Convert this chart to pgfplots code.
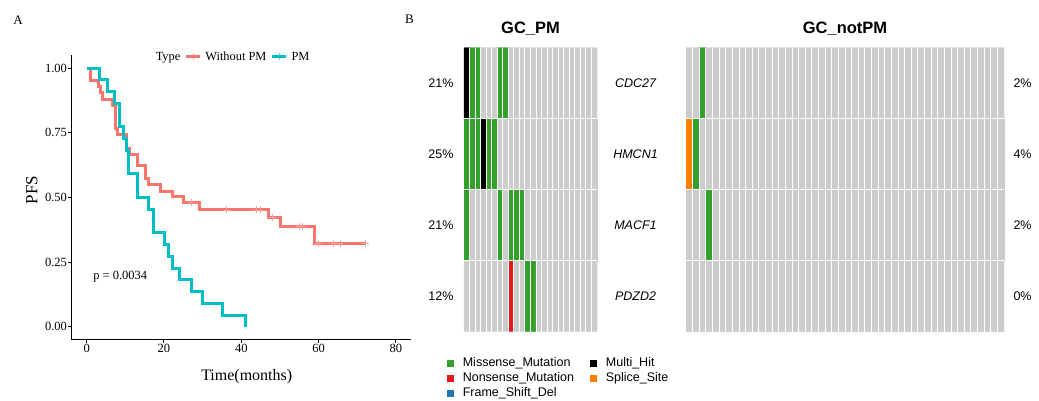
\documentclass[border=0pt]{standalone}
\usepackage{pgfplots}
\pgfplotsset{compat=1.18}
\usepackage{pgfplotstable}
\usepackage{fontspec}
\setmainfont{Liberation Serif}
\newfontfamily\sansf{Liberation Sans}
\definecolor{kmred}{HTML}{F8766D}
\definecolor{kmcyan}{HTML}{00BFC4}
\definecolor{missense}{HTML}{33A02C}
\definecolor{nonsense}{HTML}{E31A1C}
\definecolor{frameshift}{HTML}{1F78B4}
\definecolor{splice}{HTML}{FF7F00}

% mutation class per sample, gene by gene (CDC27, HMCN1, MACF1, PDZD2)
% 0 none, 1 missense, 2 multi hit, 3 nonsense, 4 splice site
\pgfplotstableread[row sep=\\]{
c\\
2\\1\\1\\0\\0\\0\\1\\1\\0\\0\\0\\0\\0\\0\\0\\0\\0\\0\\0\\0\\0\\0\\0\\0\\
1\\1\\1\\2\\1\\1\\0\\0\\0\\0\\0\\0\\0\\0\\0\\0\\0\\0\\0\\0\\0\\0\\0\\0\\
1\\0\\0\\0\\0\\0\\1\\0\\1\\1\\1\\0\\0\\0\\0\\0\\0\\0\\0\\0\\0\\0\\0\\0\\
0\\0\\0\\0\\0\\0\\0\\0\\3\\0\\0\\1\\1\\0\\0\\0\\0\\0\\0\\0\\0\\0\\0\\0\\
}\pmtab

\pgfplotstableread[row sep=\\]{
c\\
0\\0\\1\\0\\0\\0\\0\\0\\0\\0\\0\\0\\0\\0\\0\\0\\0\\0\\0\\0\\0\\0\\0\\0\\0\\0\\0\\0\\0\\0\\0\\0\\0\\0\\0\\0\\0\\0\\0\\0\\0\\0\\0\\0\\0\\0\\0\\0\\
4\\1\\0\\0\\0\\0\\0\\0\\0\\0\\0\\0\\0\\0\\0\\0\\0\\0\\0\\0\\0\\0\\0\\0\\0\\0\\0\\0\\0\\0\\0\\0\\0\\0\\0\\0\\0\\0\\0\\0\\0\\0\\0\\0\\0\\0\\0\\0\\
0\\0\\0\\1\\0\\0\\0\\0\\0\\0\\0\\0\\0\\0\\0\\0\\0\\0\\0\\0\\0\\0\\0\\0\\0\\0\\0\\0\\0\\0\\0\\0\\0\\0\\0\\0\\0\\0\\0\\0\\0\\0\\0\\0\\0\\0\\0\\0\\
0\\0\\0\\0\\0\\0\\0\\0\\0\\0\\0\\0\\0\\0\\0\\0\\0\\0\\0\\0\\0\\0\\0\\0\\0\\0\\0\\0\\0\\0\\0\\0\\0\\0\\0\\0\\0\\0\\0\\0\\0\\0\\0\\0\\0\\0\\0\\0\\
}\notpmtab

\pgfplotsset{
  onco/.style={
    scale only axis, anchor=south west, height=284pt,
    ymin=-0.5, ymax=3.5, y dir=reverse,
    colormap={onco}{rgb255=(204,204,204) rgb255=(51,160,44) rgb255=(0,0,0) rgb255=(227,26,28) rgb255=(255,127,0)},
    colormap access=direct,
    ytick={0.5,1.5,2.5},
    xticklabels={}, yticklabels={},
    xmajorgrids, ymajorgrids,
    major grid style={white, line width=1pt},
    major tick length=0pt,
    axis line style={draw=none},
    axis on top, clip=false,
  },
}
\tikzset{
  txt/.style={font=\sansf\fontsize{12.5}{15}\selectfont},
  gene/.style={font=\sansf\itshape\fontsize{12.5}{15}\selectfont},
  ttl/.style={font=\sansf\bfseries\fontsize{16.5}{18}\selectfont},
}

\begin{document}
\begin{tikzpicture}
\useasboundingbox (0pt,0pt) rectangle (1039pt,401pt);

\node[font=\fontsize{13}{15}\selectfont] at (18pt,381pt) {A};
\node[font=\fontsize{13}{15}\selectfont] at (409.5pt,381.5pt) {B};

% Kaplan-Meier
\begin{axis}[
  at={(71.2pt,61.4pt)}, anchor=south west, scale only axis,
  width=340.2pt, height=284.2pt,
  xmin=-4, xmax=84, ymin=-0.05, ymax=1.05,
  axis lines=left, axis line style={-, line width=1.1pt},
  xtick={0,20,40,60,80}, ytick={0,0.25,0.5,0.75,1},
  tick align=outside, major tick length=3pt,
  every tick/.style={black, line width=1pt},
  yticklabel style={/pgf/number format/fixed, /pgf/number format/fixed zerofill, /pgf/number format/precision=2},
  tick label style={font=\fontsize{12.5}{14}\selectfont, inner sep=1pt},
  /pgf/number format/assume math mode=true,
  xlabel={Time(months)}, ylabel={PFS},
  label style={font=\fontsize{16}{18}\selectfont},
  xlabel style={at={(axis description cs:0.516,-0.1316)}, anchor=center},
  ylabel style={at={(axis description cs:-0.116,0.526)}, anchor=center, font=\fontsize{17}{19}\selectfont},
  legend columns=3,
  legend style={at={(0.4715,0.9944)}, anchor=center, draw=none, fill=none,
    font=\fontsize{12.4}{14}\selectfont, column sep=2pt, inner sep=0pt},
  legend image code/.code={\draw[#1, line width=3pt] (0pt,0pt) -- (14pt,0pt);
    \draw[#1, line width=0.6pt, opacity=0.6] (7pt,-3.5pt) -- (7pt,3.5pt);},
]
\addplot[kmred, line width=3pt, const plot mark left, forget plot] coordinates {
(0,1) (1.1,0.952) (3.0,0.929) (3.6,0.905) (4.2,0.881) (6.8,0.857) (7.4,0.768)
(7.9,0.742) (10.2,0.690) (11.0,0.667) (13.2,0.622) (15.3,0.574) (16.0,0.551)
(19.2,0.522) (22.1,0.503) (25.1,0.480) (29.1,0.452) (47.0,0.422) (50.1,0.387)
(58.9,0.323) (72,0.323)};
\addplot[kmcyan, line width=3pt, const plot mark left, forget plot] coordinates {
(0,1) (3.2,0.955) (5.3,0.909) (7.3,0.864) (8.4,0.773) (9.6,0.727) (10.3,0.682)
(10.9,0.591) (13.1,0.500) (16.0,0.455) (17.2,0.364) (20.1,0.318) (21.1,0.273)
(22.1,0.227) (24.1,0.182) (27.2,0.136) (30.0,0.091) (35.2,0.045) (41.1,0)};
\addplot[only marks, mark=+, mark size=3.5pt, kmred!70, mark options={line width=0.7pt}, forget plot] coordinates {
(27.2,0.480) (36.2,0.452) (44.0,0.452) (44.8,0.452) (48.1,0.422) (55.1,0.387)
(55.8,0.387) (59.9,0.323) (63.8,0.323) (65.7,0.323) (72,0.323)};
\node[font=\fontsize{12.5}{14}\selectfont] at (axis cs:8.7,0.193) {p = 0.0034};
\addlegendimage{empty legend}\addlegendentry{Type}
\addlegendimage{kmred}\addlegendentry{Without PM}
\addlegendimage{kmcyan}\addlegendentry{PM}
\end{axis}

% oncoplot, GC_PM
\begin{axis}[onco, at={(464pt,69.3pt)}, width=133pt,
  xmin=-0.5, xmax=23.5, xtick={0.5,1.5,...,22.5},
  legend columns=2, legend cell align=left,
  legend image code/.code={\fill[#1] (0pt,-3pt) rectangle (6pt,3pt);
    \node[inner sep=0pt, minimum size=0pt] at (13.5pt,0pt) {};},
  legend style={at={(-0.130,-0.0838)}, anchor=north west, draw=none, fill=none,
    font=\sansf\fontsize{12.5}{15}\selectfont, inner sep=0pt, row sep=0.5pt,
    column sep=0pt, /tikz/every even column/.append style={column sep=14pt}},
]
\addplot[matrix plot*, mesh/cols=24, point meta=explicit, forget plot]
  table[x index=0, y index=0, x expr={\coordindex-24*floor((\coordindex+0.5)/24)},
    y expr={floor((\coordindex+0.5)/24)}, meta=c]{\pmtab};
\node[ttl] at (axis cs:11.5,-0.5) [yshift=19.4pt] {GC\_PM};
\node[txt, anchor=east] at (axis cs:-0.5,0) [xshift=-7pt] {21\%};
\node[txt, anchor=east] at (axis cs:-0.5,1) [xshift=-7pt] {25\%};
\node[txt, anchor=east] at (axis cs:-0.5,2) [xshift=-7pt] {21\%};
\node[txt, anchor=east] at (axis cs:-0.5,3) [xshift=-7pt] {12\%};
\node[gene] at (axis cs:30.45,0) {CDC27};
\node[gene] at (axis cs:30.45,1) {HMCN1};
\node[gene] at (axis cs:30.45,2) {MACF1};
\node[gene] at (axis cs:30.45,3) {PDZD2};
\addlegendimage{missense}\addlegendentry{Missense\_Mutation}
\addlegendimage{black}\addlegendentry{Multi\_Hit}
\addlegendimage{nonsense}\addlegendentry{Nonsense\_Mutation}
\addlegendimage{splice}\addlegendentry{Splice\_Site}
\addlegendimage{frameshift}\addlegendentry{Frame\_Shift\_Del}
\end{axis}

% oncoplot, GC_notPM
\begin{axis}[onco, at={(686pt,69.3pt)}, width=318pt,
  xmin=-0.5, xmax=47.5, xtick={0.5,1.5,...,46.5},
]
\addplot[matrix plot*, mesh/cols=48, point meta=explicit]
  table[x index=0, y index=0, x expr={\coordindex-48*floor((\coordindex+0.5)/48)},
    y expr={floor((\coordindex+0.5)/48)}, meta=c]{\notpmtab};
\node[ttl] at (axis cs:23.5,-0.5) [yshift=19.4pt] {GC\_notPM};
\node[txt, anchor=west] at (axis cs:47.5,0) [xshift=6pt] {2\%};
\node[txt, anchor=west] at (axis cs:47.5,1) [xshift=6pt] {4\%};
\node[txt, anchor=west] at (axis cs:47.5,2) [xshift=6pt] {2\%};
\node[txt, anchor=west] at (axis cs:47.5,3) [xshift=6pt] {0\%};
\end{axis}
\end{tikzpicture}
\end{document}
